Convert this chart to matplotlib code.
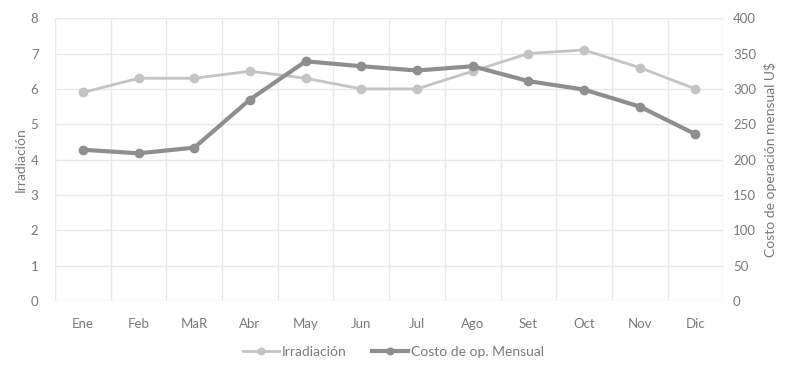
import matplotlib.pyplot as plt
import numpy as np

plt.rcParams["font.family"] = ["Lato", "DejaVu Sans"]

# Monthly data
meses = ["Ene", "Feb", "MaR", "Abr", "May", "Jun", "Jul", "Ago", "Set", "Oct", "Nov", "Dic"]
irradiacion = [5.9, 6.3, 6.3, 6.5, 6.3, 6.0, 6.0, 6.5, 7.0, 7.1, 6.6, 6.0]
costo = [214, 209, 217, 285, 339, 332, 326, 332, 311, 299, 275, 236]

txt = "#7a7a7a"
grid = "#e8e8e8"
c_irr = "#c4c4c4"
c_cost = "#8e8e8e"

fig = plt.figure(figsize=(7.87, 3.70), dpi=100)
ax = fig.add_axes([0.070, 0.186, 0.849, 0.765])
ax2 = ax.twinx()

x = np.arange(len(meses))
l1, = ax.plot(x, irradiacion, color=c_irr, lw=2.0, marker="o", ms=6, label="Irradiación", zorder=3)
l2, = ax2.plot(x, costo, color=c_cost, lw=3.0, marker="o", ms=6, label="Costo de op. Mensual", zorder=3)

ax.set_xlim(-0.5, len(meses) - 0.5)
ax.set_ylim(0, 8)
ax2.set_ylim(0, 400)
ax.set_yticks(range(0, 9))
ax2.set_yticks(range(0, 401, 50))
ax.set_xticks(x)
ax.set_xticklabels(meses)

# horizontal grid and category separators
ax.grid(axis="y", color=grid, lw=1.0)
ax.set_xticks(np.arange(-0.5, len(meses)), minor=True)
ax.grid(axis="x", which="minor", color=grid, lw=1.0)
ax.set_axisbelow(True)

for a in (ax, ax2):
    for s in a.spines.values():
        s.set_visible(False)
    a.tick_params(which="both", length=0, colors=txt, labelsize=9.5)
ax.tick_params(axis="x", pad=12)
ax.tick_params(axis="y", pad=12)
ax2.tick_params(axis="y", pad=7)

ax.set_ylabel("Irradiación", color=txt, fontsize=10, labelpad=3)
ax2.set_ylabel("Costo de operación mensual U$", color=txt, fontsize=10, labelpad=6)

fig.legend(handles=[l1, l2], loc="lower center", bbox_to_anchor=(0.5, 0.0), ncol=2,
           frameon=False, fontsize=10, labelcolor=txt, handlelength=2.6,
           handletextpad=0.2, columnspacing=1.8, markerscale=0.8)

fig.savefig("out.png", dpi=100)
